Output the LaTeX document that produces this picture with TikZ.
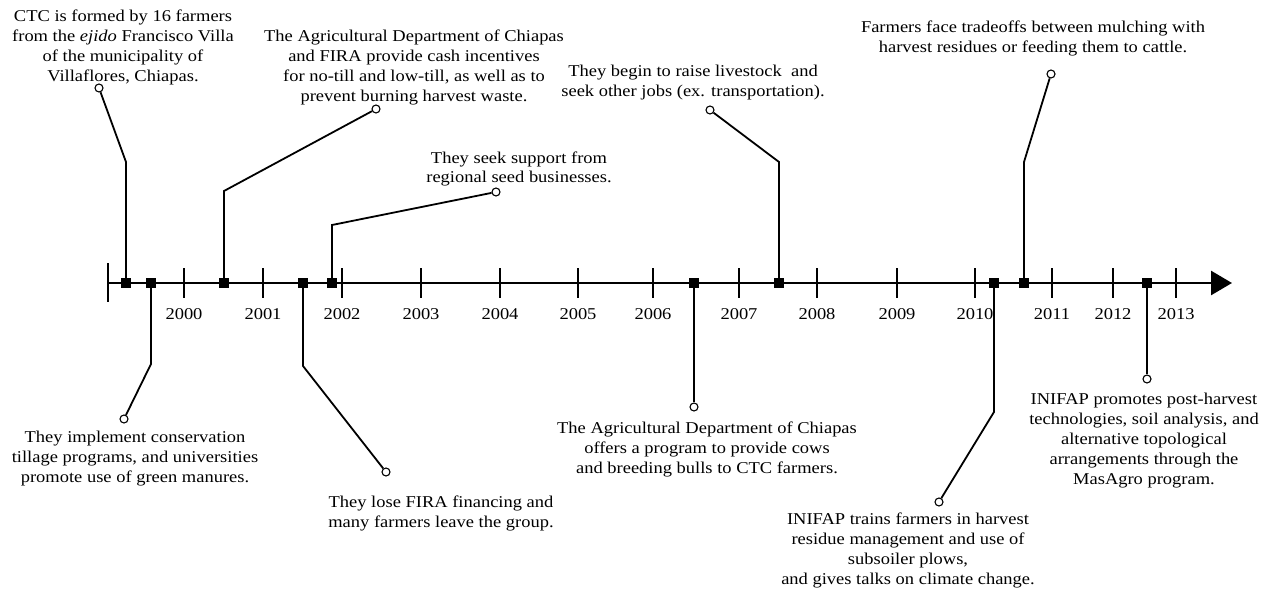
\documentclass[tikz,border=0pt]{standalone}
\usepackage{fontspec}
\setmainfont[FakeStretch=1.12]{Liberation Serif}
\usetikzlibrary{arrows.meta}
\begin{document}
\begin{tikzpicture}[x=1pt,y=-1pt,
  ev/.style={rectangle,fill=black,draw=none,minimum size=10pt,inner sep=0pt},
  dot/.style={circle,draw=black,fill=white,line width=1.1pt,minimum size=8pt,inner sep=0pt},
  con/.style={line width=1.8pt},
  axisline/.style={line width=2.8pt},
  tickmark/.style={line width=2.6pt},
  txt/.style={align=center,font=\fontsize{16.5}{20}\selectfont,inner sep=0pt,anchor=base},
  yr/.style={font=\fontsize{16.5}{20}\selectfont,inner sep=0pt,anchor=base}]
\useasboundingbox (0,0) rectangle (1262,591);
% axis
\coordinate (start) at (108,283);
\coordinate (tip) at (1232,283);
\draw[axisline,-{Triangle[length=21pt,width=24pt]}] (start) -- (tip);
\coordinate (bartop) at (108,263);
\coordinate (barbot) at (108,302);
\draw[axisline] (bartop) -- (barbot);
\foreach \x/\yy in {184/2000,263/2001,342/2002,421/2003,500/2004,578/2005,653/2006,739/2007,817/2008,897/2009,975/2010,1052/2011,1113/2012,1176/2013}{
  \draw[tickmark] (\x,268) -- (\x,298);
  \node[yr] (y\yy) at (\x,319) {\yy};
}
% events
\node[ev] (e1) at (126,283) {};
\node[ev] (e2) at (151,283) {};
\node[ev] (e3) at (224,283) {};
\node[ev] (e4) at (303,283) {};
\node[ev] (e5) at (332,283) {};
\node[ev] (e6) at (694,283) {};
\node[ev] (e7) at (779,283) {};
\node[ev] (e8) at (994,283) {};
\node[ev] (e9) at (1024,283) {};
\node[ev] (e10) at (1147,283) {};
% circles
\node[dot] (c1) at (99,88) {};
\node[dot] (c2) at (124,419) {};
\node[dot] (c3) at (376,109) {};
\node[dot] (c4) at (386,472) {};
\node[dot] (c5) at (496,192) {};
\node[dot] (c6) at (694,407) {};
\node[dot] (c7) at (710,110) {};
\node[dot] (c8) at (939,502) {};
\node[dot] (c9) at (1051,74) {};
\node[dot] (c10) at (1147,379) {};
% kinks
\coordinate (k1) at (126,162);
\coordinate (k2) at (151,364);
\coordinate (k3) at (224,191);
\coordinate (k4) at (303,366);
\coordinate (k5) at (332,225);
\coordinate (k7) at (779,162);
\coordinate (k8) at (994,412);
\coordinate (k9) at (1024,162);
% connectors
\draw[con] (e1) -- (k1) -- (c1);
\draw[con] (e2) -- (k2) -- (c2);
\draw[con] (e3) -- (k3) -- (c3);
\draw[con] (e4) -- (k4) -- (c4);
\draw[con] (e5) -- (k5) -- (c5);
\draw[con] (e6) -- (c6);
\draw[con] (e7) -- (k7) -- (c7);
\draw[con] (e8) -- (k8) -- (c8);
\draw[con] (e9) -- (k9) -- (c9);
\draw[con] (e10) -- (c10);
% texts (anchor = baseline of the last line)
\node[txt] (t1) at (123,82) {CTC is formed by 16 farmers\\from the \emph{ejido} Francisco Villa\\of the municipality of\\Villaflores, Chiapas.};
\node[txt] (t3) at (414,102) {The Agricultural Department of Chiapas\\and FIRA provide cash incentives\\for no-till and low-till, as well as to\\prevent burning harvest waste.};
\node[txt] (t5) at (519,183) {They seek support from\\regional seed businesses.};
\node[txt] (t7) at (693,97) {They begin to raise livestock\ \ and\\seek other jobs (ex. transportation).};
\node[txt] (t9) at (1033,53) {Farmers face tradeoffs between mulching with\\harvest residues or feeding them to cattle.};
\node[txt] (t2) at (135,482) {They implement conservation\\tillage programs, and universities\\promote use of green manures.};
\node[txt] (t4) at (441,527) {They lose FIRA financing and\\many farmers leave the group.};
\node[txt] (t6) at (707,473) {The Agricultural Department of Chiapas\\offers a program to provide cows\\and breeding bulls to CTC farmers.};
\node[txt] (t8) at (908,584) {INIFAP trains farmers in harvest\\residue management and use of\\subsoiler plows,\\and gives talks on climate change.};
\node[txt] (t10) at (1144,484) {INIFAP promotes post-harvest\\technologies, soil analysis, and\\alternative topological\\arrangements through the\\MasAgro program.};
\end{tikzpicture}
\end{document}
